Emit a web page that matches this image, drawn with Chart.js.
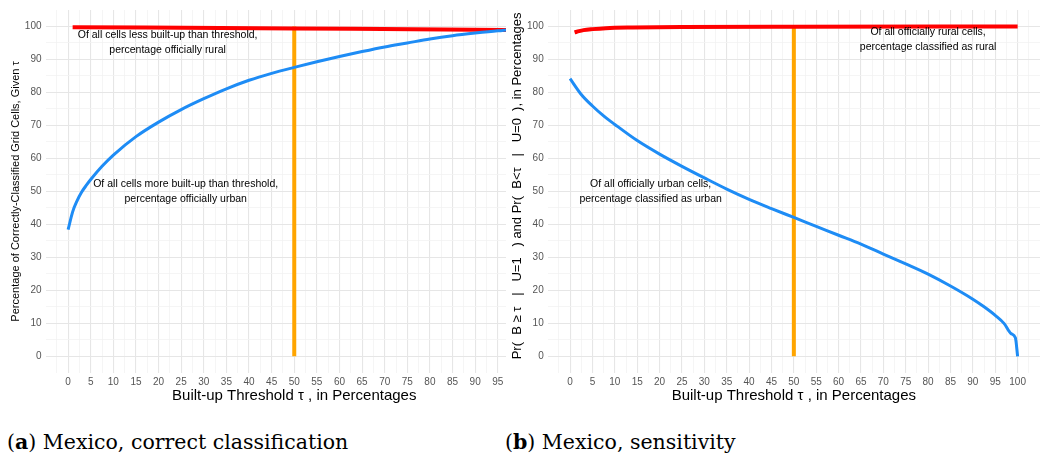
<!DOCTYPE html>
<html lang="en">
<head>
<meta charset="UTF-8">
<title>Mexico, built-up threshold</title>
<style>
  body {
    margin: 0;
    background: #fff;
    width: 1050px;
    height: 464px;
    position: relative;
    overflow: hidden;
  }
  #leftBox {
    position: absolute;
    left: 0;
    top: 0;
    width: 506px;
    height: 410px;
    overflow: hidden;
  }
  #rightBox {
    position: absolute;
    left: 505px;
    top: 0;
    width: 545px;
    height: 410px;
  }
  canvas { position: absolute; left: 0; top: 0; }
  .caption {
    position: absolute;
    top: 430px;
    font-family: "DejaVu Serif", "Liberation Serif", serif;
    font-size: 20.5px;
    color: #000;
    white-space: nowrap;
  }
</style>
</head>
<body>
  <div id="leftBox"><canvas id="chartA" width="546" height="410"></canvas></div>
  <div id="rightBox"><canvas id="chartB" width="545" height="410"></canvas></div>
  <div class="caption" style="left:7px">(<b>a</b>) Mexico, correct classification</div>
  <div class="caption" style="left:505px">(<b>b</b>) Mexico, sensitivity</div>

  <script src="https://cdn.jsdelivr.net/npm/chart.js"></script>
  <script>
    // (a) correct classification
    var aUrbanX = [0, 1, 2, 3, 4, 5, 7.5, 10, 15, 20, 25, 30, 35, 40, 45, 50, 55, 60, 65, 70, 75, 80, 85, 90, 95, 100];
    var aUrbanY = [38.4, 43.8, 47.2, 49.8, 51.8, 53.6, 57.6, 61.0, 66.6, 71.0, 74.8, 78.1, 81.1, 83.7, 85.8, 87.6, 89.3, 90.9, 92.4, 93.8, 95.0, 96.2, 97.2, 98.0, 98.7, 99.2];
    var aRuralX = [1, 50, 96.5, 100];
    var aRuralY = [99.8, 99.4, 98.9, 98.8];

    // (b) sensitivity
    var bUrbanX = [0, 2.5, 5, 7.5, 10, 15, 20, 25, 30, 35, 40, 45, 50, 55, 60, 65, 70, 75, 80, 85, 90, 92.5, 95, 97, 98.5, 99.5, 100];
    var bUrbanY = [84.2, 79.4, 75.9, 72.9, 70.3, 65.4, 61.3, 57.6, 54.1, 50.7, 47.6, 44.8, 42.1, 39.4, 36.7, 34.0, 31.0, 28.0, 24.9, 21.3, 17.3, 15.0, 12.4, 9.9, 6.9, 5.6, 0];
    var bRuralX = [1, 2, 3, 5, 8, 14, 25, 50, 100];
    var bRuralY = [98.2, 98.6, 98.9, 99.2, 99.5, 99.7, 99.85, 99.95, 100];

    // threshold marker
    var thresholdX = [50, 50];
    var thresholdY = [0, 100];

    var xTitle = 'Built-up Threshold \u03c4 , in Percentages';
    var aYTitle = 'Percentage of Correctly-Classified Grid Cells, Given \u03c4';
    var bYTitle = '   Pr(  B \u2265 \u03c4   |   U=1   ) and Pr(  B<\u03c4   |   U=0  ), in Percentages';

    var aNotes = [
      { x: 22, y: 97.4, text: 'Of all cells less built-up than threshold,' },
      { x: 22, y: 92.7, text: 'percentage officially rural' },
      { x: 26, y: 52.3, text: 'Of all cells more built-up than threshold,' },
      { x: 26, y: 47.7, text: 'percentage officially urban' }
    ];
    var bNotes = [
      { x: 80, y: 98.3, text: 'Of all officially rural cells,' },
      { x: 80, y: 93.7, text: 'percentage classified as rural' },
      { x: 18, y: 52.3, text: 'Of all officially urban cells,' },
      { x: 18, y: 47.7, text: 'percentage classified as urban' }
    ];

    Chart.defaults.font.family = '"Liberation Sans", Arial, sans-serif';

    function toPoints(xs, ys) {
      return xs.map(function(x, i) { return { x: x, y: ys[i] }; });
    }

    function notesPlugin(notes) {
      return {
        id: 'notes',
        afterDatasetsDraw: function(chart) {
          var ctx = chart.ctx;
          var x = chart.scales.x, y = chart.scales.y;
          ctx.save();
          ctx.font = '10.5px "Liberation Sans", Arial, sans-serif';
          ctx.fillStyle = '#000';
          ctx.textAlign = 'center';
          ctx.textBaseline = 'middle';
          notes.forEach(function(n) {
            ctx.fillText(n.text, x.getPixelForValue(n.x), y.getPixelForValue(n.y));
          });
          ctx.restore();
        }
      };
    }

    function gridStyle(major) {
      return {
        drawTicks: false,
        color: function(c) {
          var v = c.tick.value;
          if (v < 0 || v > 100) return v === -2.5 || v === 102.5 ? '#f2f2f2' : 'rgba(0,0,0,0)';
          return v % major === 0 ? '#e6e6e6' : '#f2f2f2';
        },
        lineWidth: function(c) {
          return c.tick.value % major === 0 ? 1.1 : 0.8;
        }
      };
    }

    function makeChart(id, urbanX, urbanY, ruralX, ruralY, yTitle, yTitleSize, yWidth, yTitlePad, rightPad, notes) {
      return new Chart(document.getElementById(id), {
        type: 'line',
        data: {
          datasets: [{
            data: toPoints(urbanX, urbanY),
            borderColor: '#1E8CF5',
            borderWidth: 3,
            pointRadius: 0,
            cubicInterpolationMode: 'monotone'
          }, {
            data: toPoints(ruralX, ruralY),
            borderColor: '#FF0000',
            borderWidth: 4,
            pointRadius: 0,
            cubicInterpolationMode: 'monotone'
          }, {
            data: toPoints(thresholdX, thresholdY),
            borderColor: '#FFA500',
            borderWidth: 4,
            pointRadius: 0
          }]
        },
        options: {
          responsive: false,
          animation: false,
          layout: { padding: { top: 9.8, right: rightPad, bottom: 2.8, left: 0 } },
          plugins: { legend: { display: false }, tooltip: { enabled: false } },
          scales: {
            x: {
              type: 'linear',
              min: -5,
              max: 105,
              afterFit: function(s) { s.height = 34.4; },
              ticks: {
                stepSize: 2.5,
                autoSkip: false,
                maxRotation: 0,
                padding: 3,
                color: '#555',
                font: { size: 10 },
                callback: function(v) { return (v % 5 === 0 && v >= 0 && v <= 100) ? v : ''; }
              },
              grid: gridStyle(5),
              border: { display: false },
              title: { display: true, text: xTitle, color: '#000', font: { size: 15 }, padding: { top: 0, bottom: 2 } }
            },
            y: {
              type: 'linear',
              min: -5,
              max: 105,
              afterFit: function(s) { s.width = yWidth; },
              ticks: {
                stepSize: 5,
                autoSkip: false,
                padding: 4,
                color: '#555',
                font: { size: 10 },
                callback: function(v) { return (v % 10 === 0 && v >= 0 && v <= 100) ? v : ''; }
              },
              grid: gridStyle(10),
              border: { display: false },
              title: { display: true, text: yTitle, color: '#000', font: { size: yTitleSize }, padding: { top: yTitlePad, bottom: 0 } }
            }
          }
        },
        plugins: [notesPlugin(notes)]
      });
    }

    makeChart('chartA', aUrbanX, aUrbanY, aRuralX, aRuralY, aYTitle, 11, 45.5, 9, 2.7, aNotes);
    makeChart('chartB', bUrbanX, bUrbanY, bRuralX, bRuralY, bYTitle, 13, 42.7, 4.2, 10, bNotes);
  </script>
</body>
</html>
